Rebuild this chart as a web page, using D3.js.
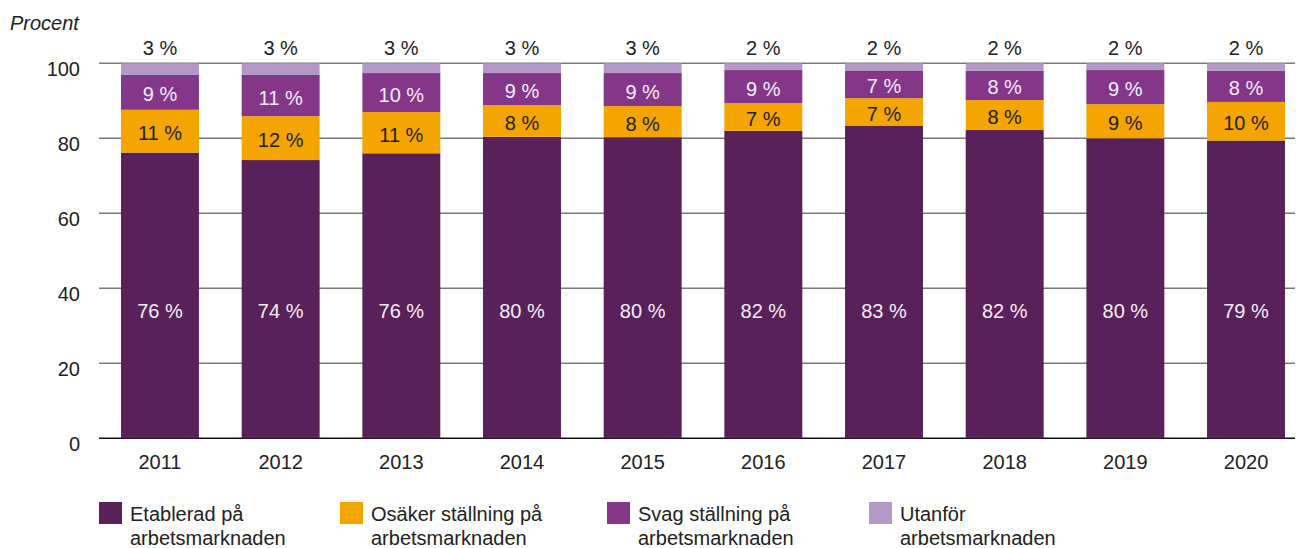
<!DOCTYPE html>
<html>
<head>
<meta charset="utf-8">
<script src="https://cdn.jsdelivr.net/npm/d3@7"></script>
<style>
  html, body { margin: 0; padding: 0; background: #fff; }
  svg text { font-family: "Liberation Sans", Arial, Helvetica, sans-serif; }
</style>
</head>
<body>
<svg id="chart" width="1296" height="548"></svg>
<script>
const years = ["2011","2012","2013","2014","2015","2016","2017","2018","2019","2020"];
const etablerad = [76.2, 74.2, 76.0, 80.4, 80.3, 82.0, 83.4, 82.2, 80.0, 79.4];
const osaker    = [11.4, 11.7, 11.0,  8.4,  8.3,  7.4,  7.3,  8.0,  9.1, 10.3];
const svag      = [ 9.3, 11.0, 10.4,  8.6,  8.8,  8.8,  7.4,  7.8,  9.1,  8.3];
const utanfor   = [ 3.1,  3.1,  2.6,  2.6,  2.6,  1.8,  1.9,  2.0,  1.8,  2.0];
const yTicks = [0, 20, 40, 60, 80, 100];
const seriesNames = ["Etablerad på arbetsmarknaden", "Osäker ställning på arbetsmarknaden",
                     "Svag ställning på arbetsmarknaden", "Utanför arbetsmarknaden"];
const legendLines = [["Etablerad på", "arbetsmarknaden"], ["Osäker ställning på", "arbetsmarknaden"],
                     ["Svag ställning på", "arbetsmarknaden"], ["Utanför", "arbetsmarknaden"]];
const colors = ["#58215a", "#f5a500", "#843689", "#b398c8"];
const labelColors = ["#f3edf5", "#1e1e1e", "#f3edf5", "#222"];
const yAxisTitle = "Procent";

const svg = d3.select("#chart");
const keys = ["etablerad", "osaker", "svag", "utanfor"];
const table = years.map((y, i) => ({
  year: y, etablerad: etablerad[i], osaker: osaker[i], svag: svag[i], utanfor: utanfor[i]
}));
const stacked = d3.stack().keys(keys)(table);

const x = d3.scaleBand().domain(years).range([121, 1285]).paddingInner(0.354).paddingOuter(0);
const y = d3.scaleLinear().domain([0, 100]).range([438.3, 63.3]);

// grid lines
svg.append("g").selectAll("line").data(yTicks).join("line")
  .attr("x1", 99).attr("x2", 1295)
  .attr("y1", d => y(d)).attr("y2", d => y(d))
  .attr("stroke", d => d === 0 ? "#111" : "#7a7a7a")
  .attr("stroke-width", 1.5);

// y tick labels
svg.append("g").selectAll("text").data(yTicks).join("text")
  .attr("x", 80).attr("y", d => y(d) + 13)
  .attr("text-anchor", "end").attr("font-size", 20).attr("fill", "#222")
  .text(d => d);

svg.append("text").attr("x", 10).attr("y", 30)
  .attr("font-size", 20).attr("font-style", "italic").attr("fill", "#222")
  .text(yAxisTitle);

// bars
const layers = svg.append("g").selectAll("g").data(stacked).join("g")
  .attr("fill", (d, i) => colors[i]);
layers.selectAll("rect").data(d => d).join("rect")
  .attr("x", d => x(d.data.year))
  .attr("width", x.bandwidth())
  .attr("y", d => y(d[1]))
  .attr("height", d => y(d[0]) - y(d[1]));

// value labels
stacked.forEach((layer, li) => {
  svg.append("g").selectAll("text").data(layer).join("text")
    .attr("x", d => x(d.data.year) + x.bandwidth() / 2)
    .attr("y", d => {
      if (li === 0) return y(34) + 7;
      if (li === 3) return y(100) - 8;
      return y((d[0] + d[1]) / 2) + 9;
    })
    .attr("text-anchor", "middle").attr("font-size", 20)
    .attr("fill", labelColors[li])
    .text(d => Math.round(d[1] - d[0]) + " %");
});

// x labels
svg.append("g").selectAll("text").data(years).join("text")
  .attr("x", d => x(d) + x.bandwidth() / 2).attr("y", 469)
  .attr("text-anchor", "middle").attr("font-size", 20).attr("fill", "#222")
  .text(d => d);

// legend
const legX = [99, 340, 607, 869];
const leg = svg.append("g").selectAll("g").data(seriesNames).join("g")
  .attr("transform", (d, i) => `translate(${legX[i]},502)`);
leg.append("rect").attr("width", 23).attr("height", 22).attr("fill", (d, i) => colors[i]);
leg.append("text").attr("x", 31).attr("y", 19).attr("font-size", 20).attr("fill", "#222")
  .each(function(d, i) {
    d3.select(this).selectAll("tspan").data(legendLines[i]).join("tspan")
      .attr("x", 31).attr("dy", (t, j) => j === 0 ? 0 : 24).text(t => t);
  });
</script>
</body>
</html>
